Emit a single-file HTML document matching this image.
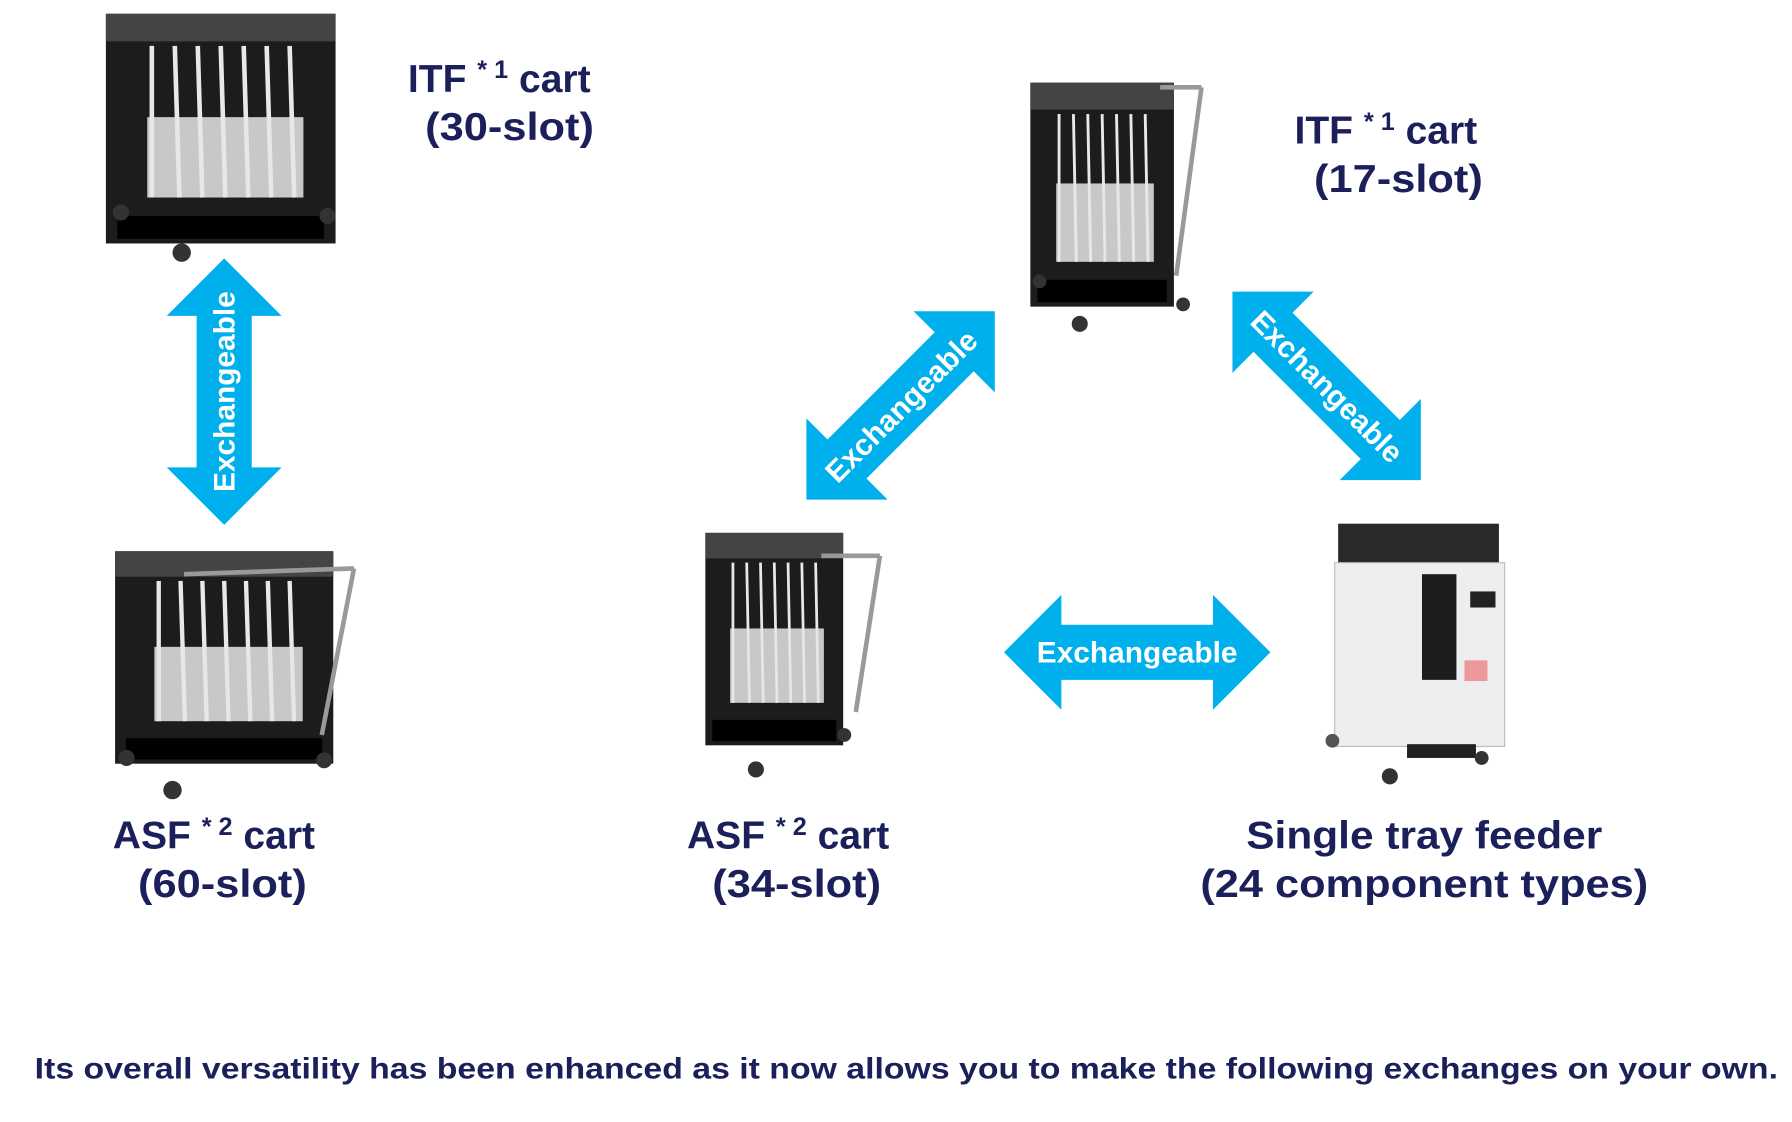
<!DOCTYPE html>
<html><head><meta charset="utf-8"><style>
html,body{margin:0;padding:0;background:#fff;}
svg{display:block;}
text{font-family:"Liberation Sans",sans-serif;font-weight:bold;}
</style></head><body>
<svg width="1792" height="1122" viewBox="0 0 1560 977" xmlns="http://www.w3.org/2000/svg">
<defs>
<polygon id="arr" points="-116,0 -66,-50 -66,-24 66,-24 66,-50 116,0 66,50 66,24 -66,24 -66,50" fill="#00b0ec"/>
<g id="cart">
  <rect x="0" y="0" width="100" height="100" fill="#1c1c1c"/>
  <rect x="0" y="0" width="100" height="12" fill="#444"/>
  <g stroke="#e8e8e8" stroke-width="2">
    <line x1="20" y1="14" x2="20" y2="80"/><line x1="30" y1="14" x2="32" y2="80"/>
    <line x1="40" y1="14" x2="42" y2="80"/><line x1="50" y1="14" x2="52" y2="80"/>
    <line x1="60" y1="14" x2="62" y2="80"/><line x1="70" y1="14" x2="72" y2="80"/>
    <line x1="80" y1="14" x2="82" y2="80"/>
  </g>
  <rect x="18" y="45" width="68" height="35" fill="#e6e6e6" opacity="0.85"/>
  <rect x="5" y="88" width="90" height="10" fill="#000"/>
</g>
</defs>

<g transform="translate(92,12) scale(2.0,2.0)"><use href="#cart"/></g>
<circle cx="105" cy="185" r="7" fill="#333"/><circle cx="158" cy="220" r="8" fill="#333"/><circle cx="285" cy="188" r="7" fill="#333"/>

<g transform="translate(100,480) scale(1.9,1.85)"><use href="#cart"/></g>
<line x1="160" y1="500" x2="308" y2="495" stroke="#999" stroke-width="4"/>
<line x1="308" y1="495" x2="280" y2="640" stroke="#999" stroke-width="4"/>
<circle cx="110" cy="660" r="7" fill="#333"/><circle cx="150" cy="688" r="8" fill="#333"/><circle cx="282" cy="662" r="7" fill="#333"/>

<g transform="translate(897,72) scale(1.25,1.95)"><use href="#cart"/></g>
<line x1="1010" y1="76" x2="1046" y2="76" stroke="#999" stroke-width="4"/>
<line x1="1046" y1="76" x2="1024" y2="240" stroke="#999" stroke-width="4"/>
<circle cx="905" cy="245" r="6" fill="#333"/><circle cx="940" cy="282" r="7" fill="#333"/><circle cx="1030" cy="265" r="6" fill="#333"/>

<g transform="translate(614,464) scale(1.2,1.85)"><use href="#cart"/></g>
<line x1="715" y1="484" x2="766" y2="484" stroke="#999" stroke-width="4"/>
<line x1="766" y1="484" x2="745" y2="620" stroke="#999" stroke-width="4"/>
<circle cx="658" cy="670" r="7" fill="#333"/><circle cx="735" cy="640" r="6" fill="#333"/>

<rect x="1165" y="456" width="140" height="40" fill="#2a2a2a"/>
<rect x="1162" y="490" width="148" height="160" fill="#eceef0" stroke="#bbb"/>
<rect x="1238" y="500" width="30" height="92" fill="#1c1c1c"/>
<rect x="1280" y="515" width="22" height="14" fill="#222"/>
<rect x="1275" y="575" width="20" height="18" fill="#e44" opacity="0.5"/>
<rect x="1225" y="648" width="60" height="12" fill="#222"/>
<circle cx="1160" cy="645" r="6" fill="#555"/><circle cx="1210" cy="676" r="7" fill="#333"/><circle cx="1290" cy="660" r="6" fill="#333"/>

<g transform="translate(195,341) rotate(90)"><use href="#arr"/></g>
<text transform="translate(204,341) rotate(-90)" text-anchor="middle" font-size="26" fill="#fff">Exchangeable</text>

<g transform="translate(784,353) rotate(-45)"><use href="#arr"/></g>
<text transform="translate(791,360) rotate(-45)" text-anchor="middle" font-size="26" fill="#fff">Exchangeable</text>

<g transform="translate(1155,336) rotate(45)"><use href="#arr"/></g>
<text transform="translate(1149,343) rotate(45)" text-anchor="middle" font-size="26" fill="#fff">Exchangeable</text>

<g transform="translate(990,568)"><use href="#arr"/></g>
<text x="990" y="577" text-anchor="middle" font-size="26" fill="#fff">Exchangeable</text>

<g fill="#1b1f5a" font-size="34">
<text x="355" y="80">ITF <tspan font-size="22" dy="-12">* 1</tspan><tspan dy="12"> cart</tspan></text>
<text x="370" y="122" textLength="147" lengthAdjust="spacingAndGlyphs">(30-slot)</text>
<text x="1127" y="125">ITF <tspan font-size="22" dy="-12">* 1</tspan><tspan dy="12"> cart</tspan></text>
<text x="1144" y="167" textLength="147" lengthAdjust="spacingAndGlyphs">(17-slot)</text>
<text x="98" y="739">ASF <tspan font-size="22" dy="-12">* 2</tspan><tspan dy="12"> cart</tspan></text>
<text x="120" y="781" textLength="147" lengthAdjust="spacingAndGlyphs">(60-slot)</text>
<text x="598" y="739">ASF <tspan font-size="22" dy="-12">* 2</tspan><tspan dy="12"> cart</tspan></text>
<text x="620" y="781" textLength="147" lengthAdjust="spacingAndGlyphs">(34-slot)</text>
<text x="1085" y="739" textLength="310" lengthAdjust="spacingAndGlyphs">Single tray feeder</text>
<text x="1045" y="781" textLength="390" lengthAdjust="spacingAndGlyphs">(24  component types)</text>
<text x="30" y="939" font-size="26" textLength="1518" lengthAdjust="spacingAndGlyphs">Its overall versatility has been enhanced as it now allows you to make the following exchanges on your own.</text>
</g>
</svg>
</body></html>
